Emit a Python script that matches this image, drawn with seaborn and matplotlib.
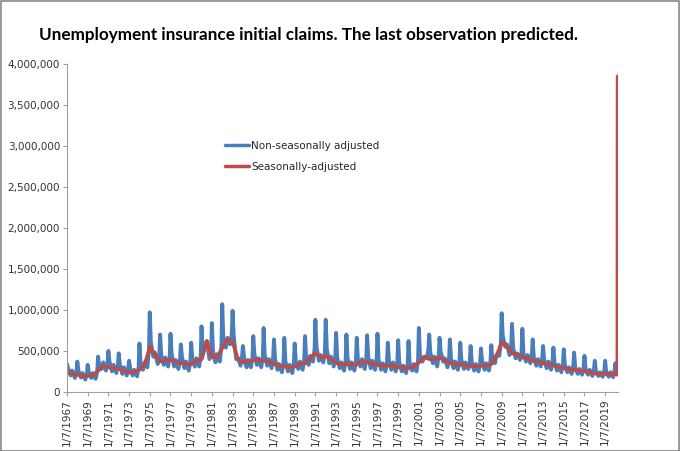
import seaborn as sns
import matplotlib.pyplot as plt
import matplotlib.patches as mpatches
import pandas as pd

# yearly readings (thousands), 1967..2019
years = list(range(1967, 2020))
sa_jan = [250, 210, 195, 260, 300, 280, 235, 270, 550, 370, 390, 350, 340, 400, 420, 540, 600, 360,
          390, 380, 340, 310, 310, 350, 470, 440, 350, 340, 335, 360, 330, 320, 300, 290, 360, 400,
          420, 350, 330, 310, 320, 340, 600, 470, 420, 380, 350, 320, 290, 270, 250, 225, 220]
sa_jul = [220, 195, 205, 320, 290, 255, 245, 340, 450, 390, 360, 340, 380, 620, 430, 650, 400, 370,
          390, 370, 310, 300, 340, 420, 420, 400, 335, 330, 375, 345, 320, 320, 295, 315, 430, 400,
          380, 340, 330, 315, 320, 450, 560, 460, 410, 370, 340, 300, 275, 260, 240, 220, 215]
nsa_peak = [340, 370, 330, 430, 500, 470, 380, 590, 970, 700, 710, 580, 600, 800, 840, 1070, 990, 560,
            680, 780, 640, 660, 590, 680, 880, 880, 720, 700, 660, 690, 710, 600, 630, 620, 780, 700,
            660, 640, 600, 560, 530, 570, 960, 830, 770, 640, 560, 540, 520, 480, 440, 380, 380]
nsa_feb = [290, 260, 240, 330, 370, 340, 290, 350, 600, 450, 470, 430, 410, 480, 500, 650, 690, 430,
           460, 450, 400, 370, 370, 410, 550, 520, 420, 410, 400, 430, 390, 380, 360, 350, 440, 480,
           490, 410, 390, 370, 380, 400, 680, 540, 470, 420, 390, 360, 330, 300, 280, 250, 240]
nsa_may = [200, 175, 170, 280, 250, 220, 200, 270, 430, 330, 310, 290, 310, 580, 360, 540, 400, 300,
           330, 320, 270, 250, 280, 330, 380, 350, 290, 280, 310, 290, 270, 270, 250, 260, 370, 350,
           370, 290, 280, 260, 270, 350, 550, 410, 370, 320, 290, 260, 240, 220, 210, 195, 185]
nsa_jul = [260, 230, 230, 360, 330, 300, 270, 360, 480, 420, 390, 370, 410, 620, 460, 660, 420, 390,
           410, 400, 340, 330, 370, 440, 450, 430, 360, 360, 400, 380, 350, 360, 320, 340, 430, 430,
           410, 370, 360, 340, 350, 450, 580, 470, 450, 400, 370, 330, 300, 280, 270, 240, 240]
nsa_oct = [170, 150, 160, 260, 230, 200, 190, 300, 340, 310, 280, 260, 310, 400, 370, 580, 320, 300,
           300, 290, 240, 230, 270, 370, 360, 310, 260, 260, 280, 270, 250, 250, 230, 250, 410, 310,
           300, 270, 280, 250, 260, 440, 450, 390, 350, 310, 270, 240, 220, 210, 195, 185, 180]
nsa_dec = [240, 220, 250, 360, 330, 300, 300, 520, 450, 430, 400, 380, 440, 470, 560, 700, 440, 430,
           430, 420, 360, 360, 400, 520, 480, 420, 380, 380, 410, 400, 370, 370, 340, 390, 520, 450,
           420, 380, 370, 350, 380, 600, 560, 480, 460, 420, 380, 340, 320, 300, 280, 260, 270]

# 2020 up to the predicted last observation
dates_2020 = ["2020-01-04", "2020-02-15", "2020-03-14"]
nsa_2020 = [350, 230, 250]
sa_2020 = [215, 210, 211]
last_date = "2020-03-21"
last_pred = 3850

nsa_rows = []
sa_rows = []
for i, y in enumerate(years):
    nsa_rows += [(f"{y}-01-07", nsa_peak[i]), (f"{y}-02-15", nsa_feb[i]), (f"{y}-05-15", nsa_may[i]),
                 (f"{y}-07-10", nsa_jul[i]), (f"{y}-10-15", nsa_oct[i]), (f"{y}-12-10", nsa_dec[i])]
    sa_rows += [(f"{y}-01-15", sa_jan[i]), (f"{y}-07-15", sa_jul[i])]
nsa_rows += list(zip(dates_2020, nsa_2020))
sa_rows += list(zip(dates_2020, sa_2020)) + [(last_date, last_pred)]

nsa = pd.DataFrame(nsa_rows, columns=["date", "claims"])
sa = pd.DataFrame(sa_rows, columns=["date", "claims"])
for d in (nsa, sa):
    d["date"] = pd.to_datetime(d["date"])
    d["claims"] = d["claims"] * 1000

sns.set_style("white")
fig = plt.figure(figsize=(6.8, 4.51), dpi=100)
ax = fig.add_axes([0.0985, 0.131, 0.81, 0.727])

blue = "#4A7EBB"
red = "#BE4B48"
sns.lineplot(data=nsa, x="date", y="claims", ax=ax, color=blue, linewidth=2.8)
sns.lineplot(data=sa, x="date", y="claims", ax=ax, color=red, linewidth=2.6)

ax.set_xlim(pd.Timestamp("1967-01-07"), pd.Timestamp("2020-03-28"))
ax.set_ylim(0, 4000000)
ax.set_yticks(range(0, 4000001, 500000))
ax.set_yticklabels([f"{v:,}" for v in range(0, 4000001, 500000)], fontsize=7.5, color="#333333")
ticks = pd.to_datetime([f"{y}-01-07" for y in range(1967, 2020, 2)])
ax.set_xticks(ticks)
ax.set_xticklabels([f"{t.month}/{t.day}/{t.year}" for t in ticks], rotation=90, fontsize=7.5,
                   color="#333333")
ax.set_xlabel("")
ax.set_ylabel("")
for s in ["top", "right"]:
    ax.spines[s].set_visible(False)
for s in ["left", "bottom"]:
    ax.spines[s].set_color("#A0A0A0")
    ax.spines[s].set_linewidth(0.8)
ax.tick_params(axis="both", length=3, color="#A0A0A0", pad=2, direction="out")
ax.tick_params(axis="y", left=True)
ax.tick_params(axis="x", bottom=True)

handles = [plt.Line2D([], [], color=blue, linewidth=2.5, label="Non-seasonally adjusted"),
           plt.Line2D([], [], color=red, linewidth=2.5, label="Seasonally-adjusted")]
ax.legend(handles=handles, loc="upper left", bbox_to_anchor=(0.27, 0.795), frameon=False,
          fontsize=7.5, handlelength=2.3, handletextpad=0.2, labelspacing=1.1)

fig.text(0.058, 0.922, "Unemployment insurance initial claims. The last observation predicted.",
         fontsize=12.3, fontweight="bold", family=["Lato", "DejaVu Sans"], color="black",
         va="center", ha="left")
fig.patches.append(mpatches.Rectangle((0.001, 0.001), 0.997, 0.997, transform=fig.transFigure,
                                      fill=False, edgecolor="#888888", linewidth=1.2))

fig.savefig("out.png", dpi=100)
